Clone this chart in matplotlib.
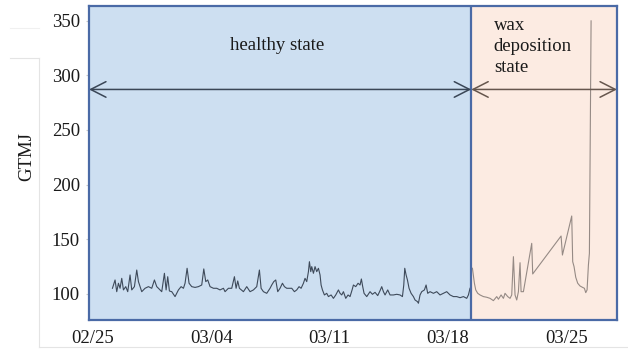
import matplotlib
matplotlib.use("Agg")
import matplotlib.pyplot as plt
import matplotlib.dates as mdates
from matplotlib.lines import Line2D
import numpy as np
import pandas as pd

plt.rcParams["font.family"] = ["Liberation Serif", "DejaVu Serif"]

# Time origin of the record; sample times are hours after it
origin = pd.Timestamp("2021-02-25 00:00")

# Healthy-state GTMJ record
healthy_hours = [
    27.5, 31.2, 33.6, 36.0, 38.3, 40.7, 43.1, 46.4, 49.2, 52.5,
    54.9, 58.7, 62.0, 64.4, 69.1, 73.8, 78.6, 83.3, 87.1, 90.4,
    92.8, 97.5, 101.3, 103.7, 106.0, 108.4, 111.7, 116.4, 121.2, 125.0,
    128.3, 130.6, 133.5, 136.3, 140.1, 144.8, 149.6, 154.3, 157.2, 160.0,
    162.8, 166.1, 170.9, 175.6, 180.3, 185.1, 187.4, 192.2, 196.9, 200.7,
    203.1, 205.4, 207.8, 213.5, 218.2, 222.9, 227.7, 232.4, 236.2, 238.6,
    241.9, 246.6, 251.3, 253.7, 256.6, 259.4, 262.2, 265.5, 268.9, 271.7,
    275.0, 279.7, 282.1, 285.9, 289.2, 292.5, 295.4, 298.7, 301.0, 303.4,
    305.8, 307.2, 309.1, 310.5, 312.9, 315.2, 317.6, 320.0, 322.3, 323.8,
    325.7, 328.5, 331.8, 334.2, 338.0, 341.3, 344.6, 348.4, 350.7, 353.1,
    355.5, 358.8, 362.1, 364.9, 367.8, 369.7, 373.0, 376.3, 379.1, 381.0,
    382.9, 384.8, 388.6, 393.3, 396.7, 400.4, 404.2, 407.5, 409.9, 412.3,
    414.6, 418.4, 421.7, 426.5, 431.2, 435.9, 439.3, 441.2, 442.6, 444.5,
    446.4, 448.7, 451.6, 454.9, 457.2, 460.6, 462.0, 464.3, 466.7, 470.5,
    472.9, 475.2, 478.5, 483.3, 488.0, 492.7, 497.5, 502.2, 506.9, 511.7,
    516.4, 521.1, 525.9, 530.6, 533.0, 535.3,
]
healthy_gtmj = [
    105.2, 112.8, 102.1, 109.8, 105.2, 114.3, 103.7, 106.7, 102.1, 117.4,
    103.7, 106.7, 121.9, 111.3, 102.1, 105.2, 106.7, 105.2, 112.8, 106.7,
    105.2, 102.1, 118.9, 103.7, 115.8, 102.7, 102.1, 97.6, 103.7, 106.7,
    105.2, 109.8, 123.5, 109.8, 106.7, 106.0, 106.7, 108.2, 122.9, 111.3,
    112.8, 106.7, 105.2, 105.2, 103.7, 105.2, 102.1, 105.2, 105.2, 115.8,
    105.2, 111.9, 105.2, 102.1, 106.7, 102.1, 103.7, 106.7, 121.9, 105.2,
    102.1, 100.6, 105.2, 108.2, 111.3, 112.8, 102.1, 105.2, 109.8, 106.7,
    105.2, 105.2, 105.2, 102.1, 103.7, 106.7, 105.2, 109.8, 114.3, 111.3,
    120.4, 129.5, 120.4, 125.0, 118.9, 125.0, 120.4, 123.5, 117.4, 108.2,
    103.7, 99.1, 100.6, 97.6, 99.1, 96.0, 99.1, 103.7, 100.6, 99.1,
    102.1, 96.0, 99.1, 97.6, 103.7, 108.2, 106.7, 109.8, 108.2, 113.7,
    106.7, 100.6, 97.6, 102.1, 99.7, 101.5, 98.5, 103.0, 106.7, 102.1,
    99.1, 103.7, 99.1, 99.1, 99.7, 99.1, 97.6, 108.2, 123.5, 117.4,
    112.8, 105.2, 100.6, 97.6, 94.5, 93.0, 91.5, 99.1, 102.1, 103.7,
    108.2, 100.6, 102.1, 100.6, 102.1, 99.1, 100.6, 102.1, 99.1, 97.6,
    97.6, 96.6, 97.6, 96.0, 99.1, 105.2,
]

# Wax-deposition-state GTMJ record
wax_hours = [
    538.7, 541.5, 543.4, 546.2, 549.5, 554.3, 559.0, 563.7, 568.5, 573.2,
    575.6, 579.4, 582.7, 585.0, 588.8, 592.1, 594.5, 596.9, 599.2, 601.6,
    604.0, 606.3, 607.8, 611.1, 622.9, 624.3, 664.6, 666.5, 679.7, 681.1,
    683.0, 685.4, 688.2, 691.5, 694.9, 697.7, 699.6, 701.5, 703.4, 704.8,
    707.2,
]
wax_gtmj = [
    123.5, 109.8, 103.7, 100.6, 99.1, 97.6, 97.0, 96.0, 93.9, 97.6,
    95.2, 99.1, 96.0, 100.6, 97.6, 96.0, 99.1, 134.1, 99.1, 94.5,
    102.1, 128.6, 102.1, 102.1, 146.3, 118.3, 153.0, 135.6, 171.3, 129.5,
    125.0, 115.3, 109.8, 107.3, 106.1, 105.2, 101.2, 103.7, 126.5, 137.2,
    349.7,
]

# State boundaries (hours after origin)
view_start_h = -5.8
state_change_h = 537.0
view_end_h = 744.0

y_ticks = [100, 150, 200, 250, 300, 350]
x_tick_dates = ["2021-02-25", "2021-03-04", "2021-03-11", "2021-03-18", "2021-03-25"]
arrow_level = 287.0


def to_time(hours):
    return origin + pd.to_timedelta(np.asarray(hours, dtype=float), unit="h")


healthy_t = to_time(healthy_hours)
wax_t = to_time(wax_hours)
t0, tc, t1 = to_time([view_start_h, state_change_h, view_end_h])

frame_blue = "#4a6aa6"
fill_blue = "#cddff1"
fill_pink = "#fcebe2"

fig = plt.figure(figsize=(6.28, 3.51), dpi=100)
ax = fig.add_axes([89 / 628, 1 - 320 / 351, (617 - 89) / 628, (320 - 6) / 351])

ax.axvspan(t0, tc, color=fill_blue, lw=0, zorder=0)
ax.axvspan(tc, t1, color=fill_pink, lw=0, zorder=0)
ax.axvline(tc, color=frame_blue, lw=1.6, zorder=3)

ax.plot(healthy_t, healthy_gtmj, color="#3e4a5a", lw=0.8, zorder=2)
ax.plot(wax_t, wax_gtmj, color="#958a85", lw=0.8, zorder=2)

ax.set_xlim(t0, t1)
ax.set_ylim(76.2, 363.3)

ax.set_yticks(y_ticks)
ax.set_xticks(pd.to_datetime(x_tick_dates))
ax.xaxis.set_major_formatter(mdates.DateFormatter("%m/%d"))
ax.tick_params(axis="y", length=2, pad=4.5, color="#c8c8c8", labelsize=13.5, labelcolor="#1a1a1a")
ax.tick_params(axis="x", length=0, pad=7, labelsize=13.5, labelcolor="#1a1a1a")

for s in ax.spines.values():
    s.set_color(frame_blue)
    s.set_linewidth(1.6)
    s.set_zorder(4)

ax.set_ylabel("GTMJ", fontsize=13.5, color="#1a1a1a")
ax.yaxis.set_label_coords(-0.101, 0.52)

# State span arrows
ax.annotate("", xy=(t0, arrow_level), xytext=(tc, arrow_level),
            arrowprops=dict(arrowstyle="<->,head_length=0.55,head_width=0.28",
                            color="#3a4656", lw=1.1, mutation_scale=20,
                            shrinkA=0, shrinkB=0), zorder=3)
ax.annotate("", xy=(tc, arrow_level), xytext=(t1, arrow_level),
            arrowprops=dict(arrowstyle="<->,head_length=0.55,head_width=0.28",
                            color="#66564d", lw=1.1, mutation_scale=20,
                            shrinkA=0, shrinkB=0), zorder=3)

ax.text(to_time([262.0])[0], 327.6, "healthy state", fontsize=13.5,
        color="#1a1a1a", ha="center", va="center")
ax.text(to_time([569.0])[0], 326.5, "wax\ndeposition\nstate", fontsize=13.5,
        color="#1a1a1a", ha="left", va="center", linespacing=1.3)

# Faint page guide lines around the plot
guide = "#e4e4e4"
fig.add_artist(Line2D([39 / 628, 39 / 628], [1 - 347 / 351, 1 - 58 / 351],
                      transform=fig.transFigure, color=guide, lw=0.8))
fig.add_artist(Line2D([10 / 628, 39 / 628], [1 - 58 / 351, 1 - 58 / 351],
                      transform=fig.transFigure, color=guide, lw=0.8))
fig.add_artist(Line2D([10 / 628, 39 / 628], [1 - 28 / 351, 1 - 28 / 351],
                      transform=fig.transFigure, color="#f0f0f0", lw=0.8))
fig.add_artist(Line2D([39 / 628, 1.0], [1 - 347 / 351, 1 - 347 / 351],
                      transform=fig.transFigure, color=guide, lw=0.8))

fig.savefig("out.png", dpi=100)
